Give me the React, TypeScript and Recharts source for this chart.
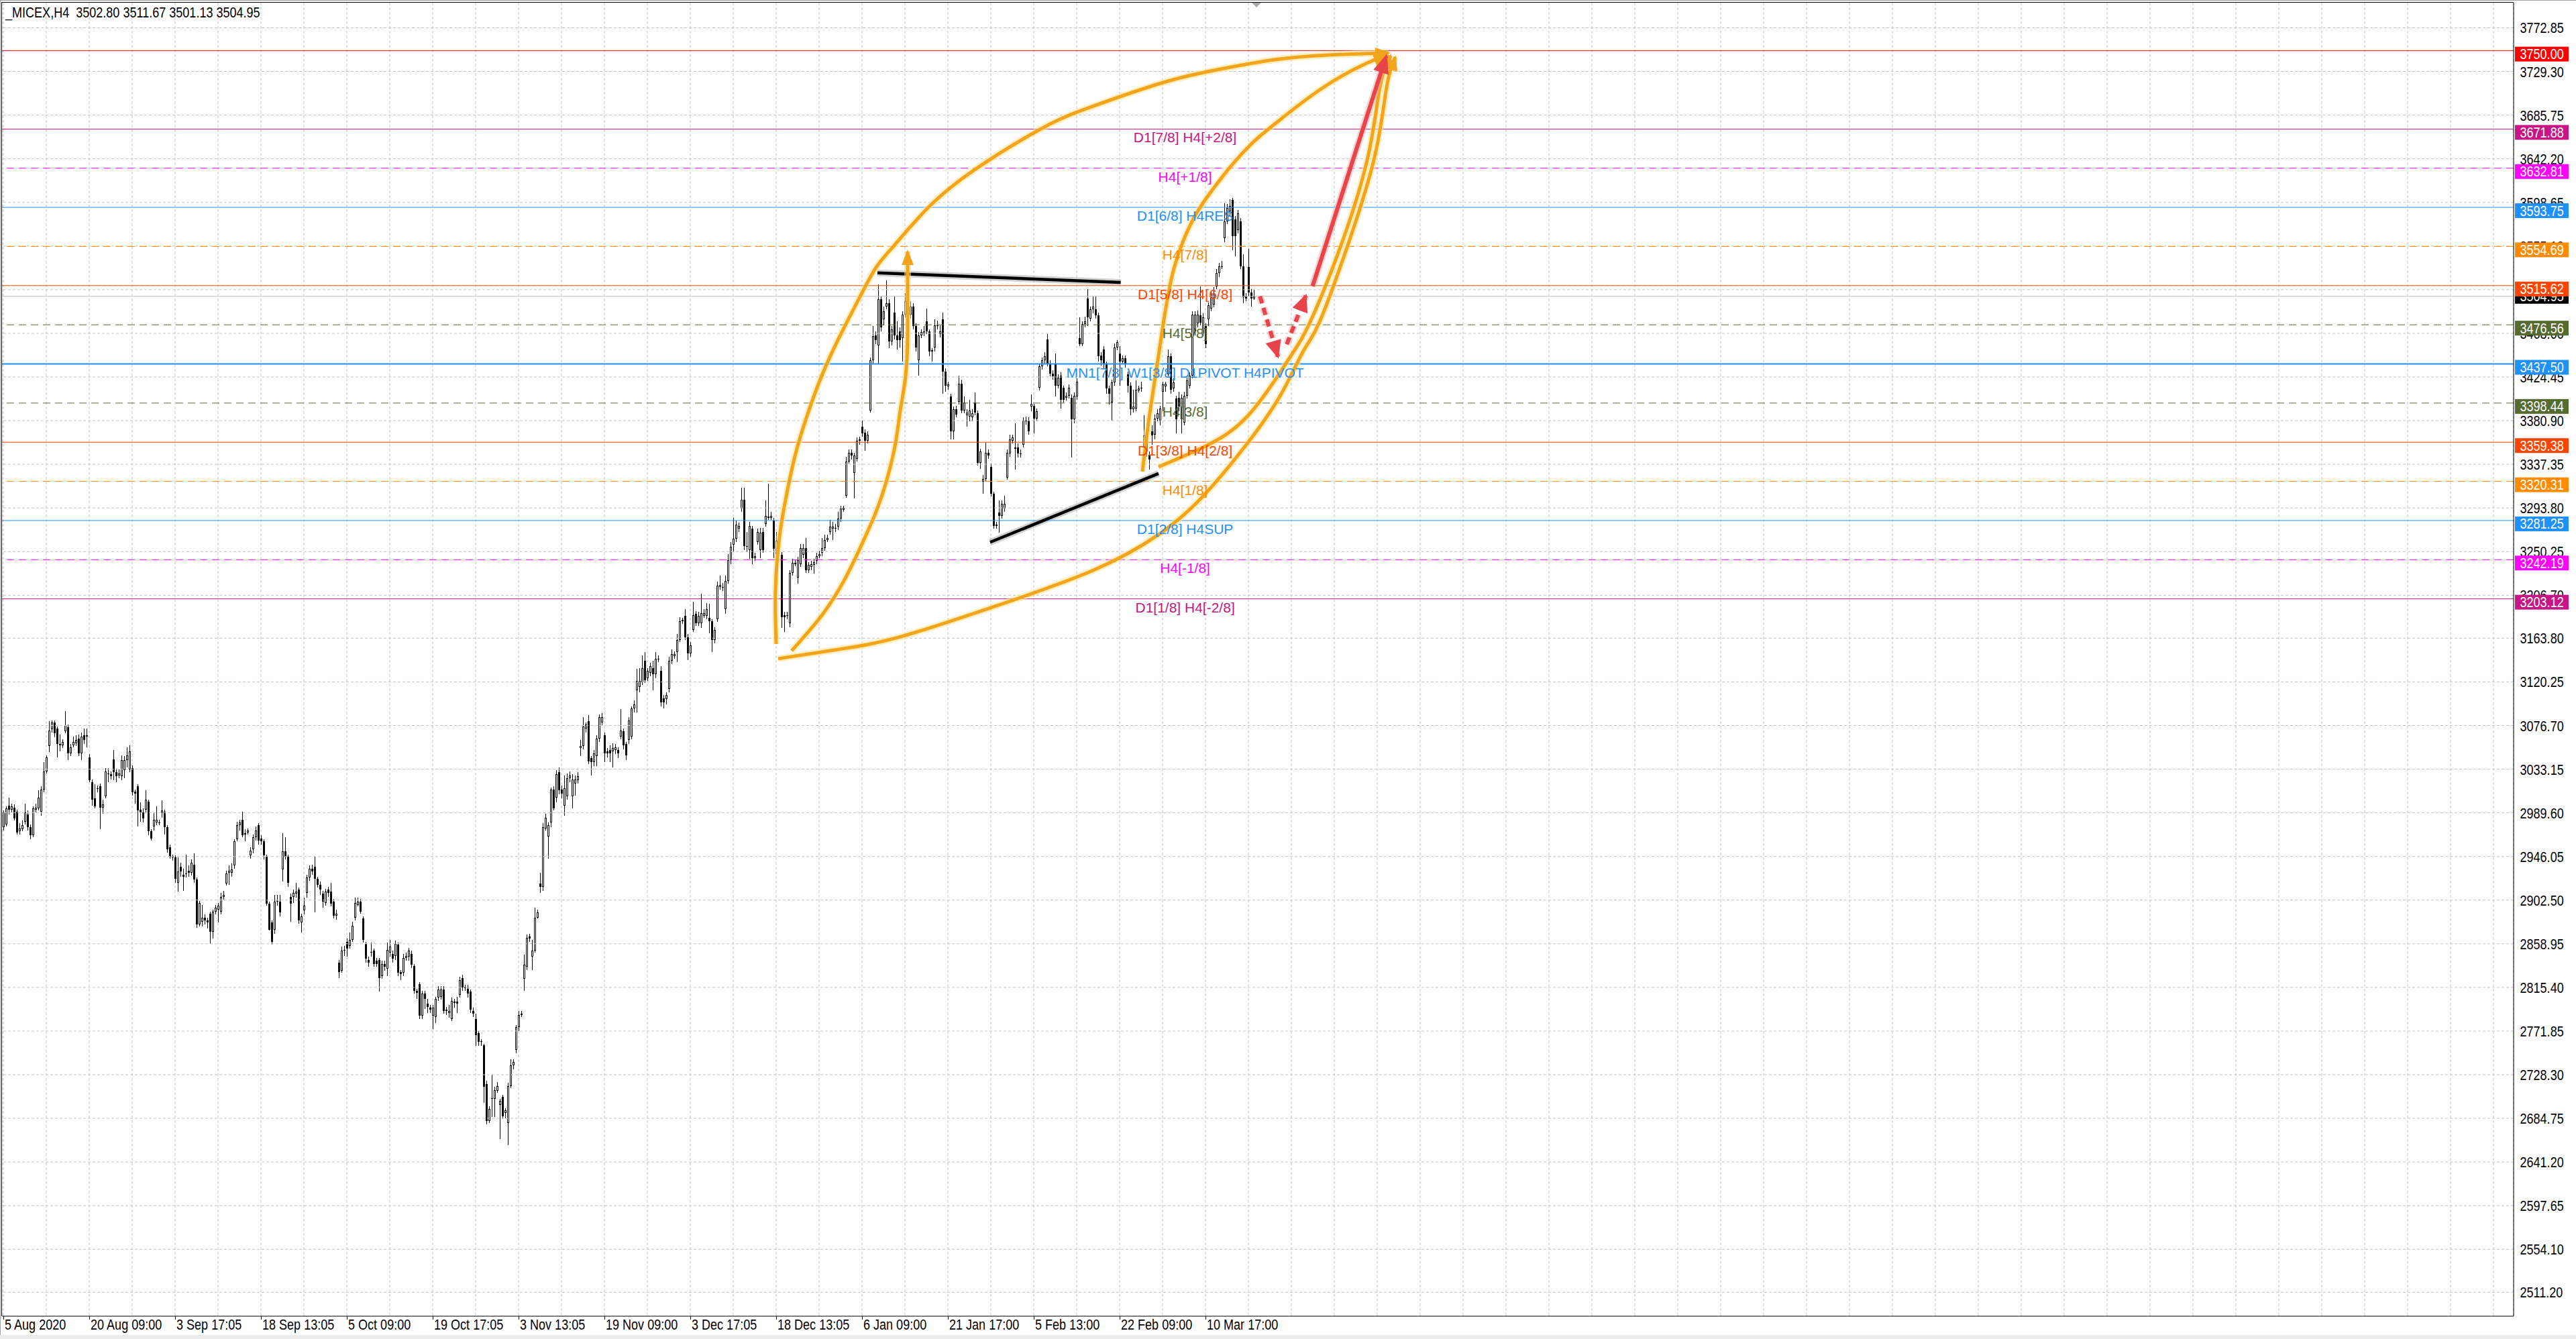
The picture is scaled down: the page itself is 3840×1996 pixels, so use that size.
import React from "react";
import { ComposedChart, XAxis, YAxis, CartesianGrid, Bar, Line, ReferenceLine, ReferenceDot } from "recharts";

// ─── Data ────────────────────────────────────────────────────────────────────

// H4 candles, one row per bar: [open, high, low, close]
const barsAugSep = [
  [2975,2992,2972,2990],[2978,2996,2976,2994],[2997,3005,2988,2993],[2993,2999,2990,2996],[2995,2998,2982,2984],
  [2991,2993,2968,2970],[2971,2979,2968,2974],[2973,2982,2971,2977],[2981,2999,2978,2990],[2988,2992,2972,2975],
  [2975,2978,2963,2967],[2967,2996,2965,2994],[2993,2999,2990,2995],[2994,3012,2992,3005],[2991,3016,2987,3013],
  [3013,3040,3010,3031],[3031,3047,3029,3045],[3056,3081,3050,3072],[3073,3082,3070,3080],[3080,3082,3065,3069],
  [3074,3076,3045,3058],[3058,3068,3051,3057],[3057,3063,3054,3060],[3071,3091,3069,3077],[3075,3078,3042,3049],
  [3049,3058,3046,3055],[3057,3066,3055,3060],[3059,3067,3056,3062],[3064,3068,3046,3049],[3049,3070,3042,3066],
  [3067,3074,3058,3062],[3067,3074,3055,3066],[3045,3048,3020,3022],[3020,3023,2997,3003],[3004,3018,2994,2996],
  [3014,3017,3010,3014],[3016,3019,2973,2995],[2995,3003,2989,2998],[3006,3034,3004,3031],[3028,3034,3020,3029],
  [3028,3031,3023,3026],[3043,3052,3022,3030],[3030,3033,3020,3026],[3027,3033,3024,3029],[3026,3047,3022,3042],
  [3032,3046,3024,3042],[3042,3055,3035,3047],[3033,3057,3030,3051],[3034,3037,3007,3010],[3011,3013,2999,3009],
  [3016,3018,2976,2992],[2993,3000,2981,2990],[2990,2994,2980,2984],[2993,3012,2990,3003],[3001,3003,2967,2971],
  [2971,2973,2962,2964],[2976,2990,2972,2983],[2980,2996,2977,2983],[2979,2983,2977,2980],[2990,3002,2985,2992],
  [2991,2993,2968,2975],[2975,2977,2950,2953],[2955,2958,2944,2946],[2946,2948,2942,2945],[2945,2947,2920,2924],
  [2920,2945,2911,2931],[2936,2940,2926,2931],[2928,2934,2912,2926],[2929,2948,2925,2929],[2932,2937,2926,2930],
  [2930,2943,2927,2940],[2938,2949,2920,2923],[2923,2925,2875,2878],[2878,2902,2876,2900],[2881,2898,2876,2885],
  [2885,2888,2878,2882],[2882,2885,2874,2880],[2889,2891,2859,2871],[2871,2893,2864,2891],[2891,2898,2888,2895],
  [2893,2900,2880,2897],[2891,2910,2888,2906],[2906,2912,2903,2908],[2919,2932,2917,2929],[2930,2937,2918,2932],
  [2930,2939,2926,2933],[2937,2963,2934,2961],[2963,2981,2961,2977],[2977,2983,2972,2980],[2983,2991,2965,2967],
  [2969,2973,2961,2968],[2970,2974,2968,2972],[2947,2955,2944,2952],[2953,2968,2949,2965],[2965,2976,2962,2972],
  [2977,2979,2958,2962],
];

const barsSepNov = [
  [2964,2967,2958,2961],[2961,2963,2943,2947],[2946,2948,2897,2899],[2899,2901,2872,2873],[2880,2882,2858,2861],
  [2873,2908,2869,2901],[2901,2908,2897,2902],[2901,2908,2886,2890],[2933,2969,2921,2951],[2951,2965,2943,2946],
  [2946,2948,2916,2920],[2906,2909,2881,2899],[2906,2913,2900,2910],[2909,2920,2905,2911],[2913,2915,2879,2882],
  [2880,2889,2870,2886],[2892,2905,2888,2897],[2910,2928,2905,2925],[2925,2937,2922,2934],[2934,2938,2928,2931],
  [2936,2946,2890,2924],[2924,2926,2915,2918],[2918,2921,2908,2913],[2909,2912,2895,2901],[2900,2914,2897,2911],
  [2913,2916,2906,2910],[2911,2920,2896,2899],[2901,2904,2884,2887],[2887,2893,2883,2889],[2840,2843,2825,2831],
  [2832,2856,2830,2852],[2853,2857,2847,2852],[2861,2864,2846,2854],[2857,2870,2854,2863],[2863,2881,2861,2877],
  [2885,2905,2882,2900],[2898,2905,2896,2901],[2901,2904,2889,2891],[2884,2886,2860,2863],[2859,2861,2840,2844],
  [2843,2846,2836,2840],[2851,2860,2846,2850],[2852,2854,2836,2839],[2842,2845,2836,2839],[2843,2845,2811,2825],
  [2827,2842,2824,2839],[2839,2842,2832,2836],[2834,2860,2827,2853],[2850,2863,2846,2856],[2849,2852,2840,2844],
  [2847,2862,2843,2859],[2858,2860,2827,2830],[2831,2833,2823,2829],[2830,2849,2827,2845],[2845,2850,2842,2847],
  [2846,2855,2842,2852],[2849,2852,2835,2838],[2837,2839,2809,2812],[2812,2814,2804,2810],[2819,2821,2784,2787],
  [2787,2812,2784,2809],[2809,2812,2794,2804],[2799,2804,2790,2796],[2795,2798,2790,2793],[2787,2798,2774,2795],
  [2786,2806,2780,2804],[2805,2817,2802,2813],[2806,2817,2803,2813],[2813,2817,2789,2792],[2793,2796,2788,2792],
  [2790,2798,2785,2792],[2784,2805,2782,2802],[2800,2804,2795,2801],[2801,2806,2790,2799],[2808,2826,2805,2823],
  [2825,2828,2812,2815],[2815,2818,2812,2816],[2814,2818,2805,2809],[2811,2813,2790,2793],[2792,2795,2786,2789],
  [2784,2789,2757,2768],[2770,2772,2757,2761],[2762,2764,2757,2761],[2758,2759,2700,2716],[2719,2722,2679,2682],
  [2682,2697,2680,2694],[2704,2728,2686,2705],[2704,2716,2686,2713],[2712,2721,2710,2717],[2698,2704,2664,2702],
  [2706,2708,2684,2687],[2690,2695,2685,2693],[2680,2720,2658,2717],[2717,2744,2715,2738],[2738,2744,2734,2741],
  [2753,2778,2750,2776],
];

const barsNovDec = [
  [2776,2792,2772,2788],[2788,2792,2786,2789],[2824,2848,2812,2838],[2836,2868,2833,2865],[2866,2869,2861,2864],
  [2846,2863,2833,2852],[2852,2895,2850,2885],[2885,2893,2884,2890],[2919,2930,2910,2916],[2916,2979,2912,2975],
  [2974,2989,2972,2985],[2966,2980,2944,2977],[2980,3015,2975,3013],[3013,3016,2992,2994],[3005,3032,3000,3028],
  [3030,3035,3008,3012],[3013,3017,3004,3009],[2997,3027,2987,3014],[3006,3029,3003,3024],[3024,3031,3020,3027],
  [3006,3028,2994,3023],[3019,3027,3007,3023],[3022,3030,3019,3026],[3054,3062,3046,3056],[3056,3085,3053,3076],
  [3074,3080,3070,3078],[3081,3087,3038,3041],[3044,3046,3027,3040],[3040,3052,3036,3049],[3046,3067,3036,3064],
  [3064,3088,3060,3085],[3080,3089,3077,3085],[3067,3070,3040,3049],[3051,3054,3045,3049],[3052,3057,3040,3049],
  [3051,3059,3035,3054],[3052,3058,3048,3055],[3052,3055,3044,3049],[3066,3093,3063,3072],[3071,3074,3053,3057],
  [3058,3060,3042,3047],[3062,3085,3058,3082],[3066,3096,3063,3094],[3094,3102,3090,3098],[3112,3133,3090,3121],
  [3115,3134,3110,3121],[3120,3147,3117,3134],[3141,3150,3119,3122],[3124,3134,3121,3131],[3129,3139,3126,3136],
  [3134,3141,3112,3128],[3128,3150,3124,3143],[3143,3147,3140,3143],[3131,3136,3096,3100],[3104,3107,3094,3100],
  [3103,3110,3098,3107],[3113,3145,3110,3141],[3141,3153,3138,3148],[3146,3151,3143,3148],[3150,3168,3140,3162],
  [3162,3185,3160,3181],[3181,3184,3178,3182],[3186,3193,3162,3165],[3165,3168,3142,3149],[3149,3160,3145,3157],
  [3172,3200,3170,3187],[3188,3191,3176,3179],[3179,3190,3176,3186],[3179,3208,3174,3189],[3186,3193,3184,3189],
  [3186,3199,3183,3193],[3184,3198,3169,3181],[3181,3183,3150,3162],[3162,3175,3159,3172],[3183,3220,3180,3216],
  [3215,3226,3212,3217],[3214,3219,3211,3215],[3193,3226,3188,3221],[3221,3248,3218,3242],[3242,3260,3238,3255],
  [3257,3284,3250,3263],[3263,3281,3260,3277],[3273,3279,3270,3276],[3293,3314,3290,3302],[3302,3314,3252,3256],
  [3255,3270,3250,3256],[3252,3280,3243,3276],[3273,3276,3238,3244],[3244,3249,3241,3246],[3260,3273,3257,3270],
  [3252,3274,3244,3269],[3270,3274,3249,3252],[3278,3301,3275,3286],[3284,3318,3282,3285],[3284,3290,3282,3286],
  [3281,3284,3244,3253],
];

const barsDecFeb = [
  [3248,3270,3245,3261],[3261,3268,3252,3258],[3247,3250,3174,3185],[3187,3190,3170,3185],[3187,3190,3183,3187],
  [3179,3232,3175,3229],[3229,3243,3226,3239],[3238,3242,3236,3239],[3224,3245,3218,3242],[3238,3258,3235,3254],
  [3247,3258,3244,3254],[3254,3264,3229,3232],[3232,3240,3229,3237],[3235,3241,3232,3238],[3237,3243,3228,3240],
  [3241,3249,3238,3246],[3246,3251,3244,3248],[3249,3264,3246,3254],[3254,3267,3251,3262],[3262,3267,3260,3264],
  [3270,3282,3267,3275],[3273,3280,3262,3275],[3273,3278,3270,3274],[3275,3290,3272,3283],[3283,3296,3280,3293],
  [3292,3296,3290,3294],[3306,3345,3304,3340],[3340,3352,3338,3349],[3349,3352,3342,3346],[3329,3349,3303,3346],
  [3343,3364,3340,3361],[3361,3365,3357,3362],[3375,3381,3365,3368],[3369,3372,3351,3361],[3361,3370,3358,3367],
  [3391,3444,3389,3441],[3441,3475,3438,3465],[3466,3470,3457,3461],[3456,3517,3437,3502],[3502,3505,3470,3474],
  [3482,3495,3476,3490],[3495,3521,3492,3498],[3498,3502,3453,3460],[3460,3475,3456,3472],[3489,3505,3462,3466],
  [3466,3480,3452,3461],[3470,3474,3454,3461],[3463,3490,3440,3487],[3487,3508,3484,3500],[3495,3502,3490,3498],
  [3487,3500,3483,3495],[3495,3498,3472,3475],[3475,3478,3450,3454],[3441,3469,3426,3466],[3466,3472,3463,3469],
  [3468,3475,3465,3470],[3480,3493,3467,3470],[3470,3472,3445,3450],[3451,3453,3440,3450],[3454,3482,3450,3476],
  [3475,3481,3472,3476],[3467,3476,3464,3470],[3482,3489,3408,3430],[3430,3433,3410,3416],[3415,3420,3412,3417],
  [3405,3408,3362,3370],[3370,3395,3362,3392],[3392,3396,3384,3387],[3400,3426,3397,3418],[3418,3422,3388,3391],
  [3391,3405,3388,3399],[3386,3392,3375,3389],[3385,3402,3380,3391],[3384,3392,3380,3388],[3399,3409,3386,3389],
  [3388,3391,3336,3339],[3339,3353,3333,3350],[3320,3327,3308,3323],[3323,3359,3320,3349],[3349,3352,3343,3346],
  [3335,3338,3305,3308],[3308,3310,3273,3276],[3277,3280,3273,3276],[3289,3301,3269,3286],[3286,3301,3283,3298],
  [3293,3306,3290,3298],[3324,3352,3322,3349],[3348,3367,3345,3362],[3361,3367,3358,3364],[3354,3378,3332,3353],
  [3354,3358,3344,3348],[3348,3352,3344,3348],[3357,3384,3354,3381],[3380,3385,3377,3381],[3381,3384,3367,3370],
  [3395,3407,3390,3398],
];

const barsFebMar = [
  [3396,3398,3368,3383],[3383,3393,3380,3390],[3414,3438,3411,3435],[3435,3444,3432,3441],[3441,3449,3438,3445],
  [3462,3467,3435,3438],[3438,3441,3425,3428],[3428,3431,3422,3425],[3438,3448,3405,3416],[3416,3427,3413,3424],
  [3426,3429,3393,3402],[3414,3416,3399,3402],[3404,3409,3401,3406],[3406,3417,3403,3414],[3404,3407,3344,3382],
  [3382,3409,3378,3406],[3405,3423,3402,3420],[3463,3484,3455,3457],[3457,3480,3455,3477],[3477,3485,3474,3480],
  [3503,3512,3475,3484],[3483,3495,3480,3492],[3492,3505,3488,3495],[3492,3505,3483,3486],[3486,3489,3440,3445],
  [3446,3449,3436,3441],[3452,3455,3433,3437],[3437,3440,3408,3413],[3413,3416,3397,3408],[3399,3422,3381,3419],
  [3419,3458,3416,3454],[3454,3461,3451,3459],[3448,3455,3416,3440],[3440,3446,3437,3443],[3443,3446,3434,3437],
  [3427,3430,3409,3416],[3416,3419,3386,3392],[3392,3412,3389,3395],[3393,3421,3390,3412],[3411,3416,3409,3413],
  [3413,3420,3410,3414],[3354,3386,3336,3366],[3362,3368,3345,3350],[3347,3350,3332,3342],[3370,3376,3357,3366],
  [3367,3387,3362,3383],[3383,3392,3380,3388],[3381,3396,3376,3393],[3410,3420,3390,3417],[3415,3420,3410,3418],
  [3427,3452,3424,3445],[3445,3448,3408,3412],[3413,3423,3410,3419],[3403,3406,3368,3382],[3404,3410,3390,3395],
  [3382,3407,3368,3404],[3379,3410,3376,3406],[3406,3424,3403,3421],[3416,3429,3413,3426],[3426,3490,3423,3487],
  [3470,3490,3466,3487],[3478,3491,3474,3487],[3486,3515,3476,3479],[3468,3488,3465,3484],[3475,3478,3453,3457],
  [3482,3499,3475,3496],[3493,3510,3490,3507],[3497,3514,3494,3508],[3515,3532,3512,3528],[3528,3538,3524,3535],
  [3534,3540,3532,3535],[3563,3598,3559,3580],[3580,3597,3577,3593],[3590,3602,3585,3595],[3601,3603,3551,3565],
  [3582,3585,3545,3565],[3571,3591,3568,3588],[3580,3583,3532,3535],[3535,3547,3498,3504],[3505,3508,3500,3503],
  [3534,3552,3505,3509],[3509,3512,3495,3503],[3502.8,3511.67,3501.13,3504.95],
];

const dateLabels = [
  "5 Aug 2020", "20 Aug 09:00", "3 Sep 17:05", "18 Sep 13:05", "5 Oct 09:00", "19 Oct 17:05", "3 Nov 13:05",
  "19 Nov 09:00", "3 Dec 17:05", "18 Dec 13:05", "6 Jan 09:00", "21 Jan 17:00", "5 Feb 13:00", "22 Feb 09:00",
  "10 Mar 17:00",
];

const priceTicks = [
  3772.85, 3729.3, 3685.75, 3642.2, 3598.65, 3555.1, 3511.55, 3468.0, 3424.45, 3380.9, 3337.35, 3293.8, 3250.25,
  3206.7, 3163.8, 3120.25, 3076.7, 3033.15, 2989.6, 2946.05, 2902.5, 2858.95, 2815.4, 2771.85, 2728.3, 2684.75,
  2641.2, 2597.65, 2554.1, 2511.2,
];

// Murrey levels drawn on the chart
const levelPrices = [3750.0, 3671.88, 3632.81, 3593.75, 3554.69, 3515.62, 3476.56, 3437.5, 3398.44, 3359.38, 3320.31, 3281.25, 3242.19, 3203.12];
const levelTags = [
  "", "D1[7/8] H4[+2/8]", "H4[+1/8]", "D1[6/8] H4RES", "H4[7/8]", "D1[5/8] H4[6/8]", "H4[5/8]",
  "MN1[7/8] W1[3/8] D1PIVOT H4PIVOT", "H4[3/8]", "D1[3/8] H4[2/8]", "H4[1/8]", "D1[2/8] H4SUP", "H4[-1/8]", "D1[1/8] H4[-2/8]",
];
const headerQuote = [3502.8, 3511.67, 3501.13, 3504.95];
const lastPrice = 3504.95;

// hand-drawn objects, points as [bar index, price]
const trendTop = [[325.75, 3528.4], [416.4, 3518.8]];
const trendBottom = [[367.75, 3259.6], [430.5, 3328.1]];
const arcOuter = [
  [288, 3158.05], [287.75, 3211.6], [289.25, 3265.15], [291.75, 3305.35], [295, 3345.55], [299.5, 3385.65],
  [305, 3425.75], [311.25, 3462.65], [318.25, 3499.45], [325, 3532.85], [331.75, 3554.95], [345, 3594.45],
  [363, 3633.25], [386.75, 3672.15], [405, 3693.55], [432.25, 3718.3], [453.5, 3731.65], [473.75, 3741.05],
  [493.75, 3745.75], [516.25, 3747.75],
];
const arcInner = [
  [293.75, 3151.3], [305.25, 3187.5], [313.75, 3223.6], [319.5, 3255.1], [325, 3288.5], [329.25, 3322],
  [332.5, 3358.8], [334.25, 3390.9], [336.25, 3425.7], [337, 3465.9], [337, 3506], [337, 3549.6],
];
const arcLower = [
  [288.75, 3143.4], [311.25, 3152.7], [333.75, 3164.8], [368.75, 3194.9], [406.25, 3231.7], [430.5, 3267.2],
  [447, 3305.3], [463.75, 3358.8], [476.25, 3407.7], [484.5, 3450.6], [490.5, 3479.4], [501.25, 3557.7],
  [511.25, 3646.7], [515.5, 3713.6], [518.75, 3743.7],
];
const arcFebLeft = [
  [424.5, 3330.1], [426.75, 3378.95], [429.25, 3423.8], [432, 3472.65], [436.25, 3532.85], [443, 3579.75],
  [448.75, 3604.55], [457, 3633.3], [465.5, 3658.1], [473.75, 3676.8], [492, 3713.6], [508.75, 3738.4], [515.75, 3745.1],
];
const arcFebRight = [
  [430.5, 3334.8], [447, 3354.2], [463.75, 3385.6], [478.75, 3441.2], [487, 3479.4], [498.75, 3557.7],
  [508.75, 3646.7], [513, 3713.6], [517, 3745.1],
];
const arrowUp = [[487.9, 3515.0], [515.4, 3745.1]];
const arrowDipDown = [[468.3, 3505.0], [475, 3444.75]];
const arrowDipUp = [[478.3, 3457.1], [485.4, 3505.7]];

// ─── Styles ──────────────────────────────────────────────────────────────────

// MT4 uses a narrow face; Arial metrics squeezed to 82% give the same widths
const AXIS_FONT = "'Liberation Sans', Arial, sans-serif"
const NARROW = 0.82
const TAG_FONT = "'Liberation Sans', Arial, sans-serif"
const GRID = "#c4c4c4"
const ORANGE = "#f2a51c"
const ORANGE_GLOW = "#fbe28c"
const RED = "#e8454b"
const RED_GLOW = "#f6a9ab"

const LEVEL_STYLES = [
  { color: "#ff0000", dash: false, width: 1 },
  { color: "#c71585", dash: false, width: 1 },
  { color: "#ff00ff", dash: true, width: 1 },
  { color: "#1e90ff", dash: false, width: 1 },
  { color: "#ff8c00", dash: true, width: 1 },
  { color: "#ff4500", dash: false, width: 1 },
  { color: "#556b2f", dash: true, width: 1 },
  { color: "#1e90ff", dash: false, width: 2.2 },
  { color: "#556b2f", dash: true, width: 1 },
  { color: "#ff4500", dash: false, width: 1 },
  { color: "#ff8c00", dash: true, width: 1 },
  { color: "#1e90ff", dash: false, width: 1 },
  { color: "#ff00ff", dash: true, width: 1 },
  { color: "#c71585", dash: false, width: 1 },
]
const TAG_INDEX = 440.4

const bars = [...barsAugSep, ...barsSepNov, ...barsNovDec, ...barsDecFeb, ...barsFebMar]
const SLOTS = 936
const chartData = Array.from({ length: SLOTS }, (_, i) => {
  const b = bars[i]
  if (!b) return { i }
  return { i, o: b[0], h: b[1], l: b[2], c: b[3], range: [b[2], b[1]] }
})
const gridTicks = Array.from({ length: 59 }, (_, k) => k * 16)
const toPts = (arr: number[][]) => arr.map(([i, p]) => ({ i, p }))

// ─── Shapes ──────────────────────────────────────────────────────────────────

function NarrowText({ x, y, fill, children }: { x: number; y: number; fill: string; children: React.ReactNode }) {
  return (
    <text transform={`translate(${x},${y}) scale(${NARROW},1)`} fill={fill} fontFamily={AXIS_FONT} fontSize={22}
      style={{ whiteSpace: "pre" }}>
      {children}
    </text>
  )
}

function Candle(props: any) {
  const { x, y, width, height, payload } = props
  if (!payload || payload.o == null || !Number.isFinite(y)) return <g />
  const { o, h, l, c } = payload
  const top = Math.min(y, y + height)
  const bot = Math.max(y, y + height)
  const span = h - l
  const py = (v: number) => (span > 0 ? top + ((h - v) / span) * (bot - top) : top)
  const cx = Math.round(x + width / 2)
  const b1 = Math.round(py(Math.max(o, c)))
  const b2 = Math.round(py(Math.min(o, c)))
  const bh = b2 - b1
  return (
    <g shapeRendering="crispEdges">
      <line x1={cx + 0.5} x2={cx + 0.5} y1={Math.round(top)} y2={Math.round(bot)} stroke="#000" />
      {c >= o && bh >= 2 ? (
        <rect x={cx - 0.5} y={b1 + 0.5} width={2} height={bh - 1} fill="#fff" stroke="#000" />
      ) : (
        <rect x={cx - 1} y={b1} width={3} height={Math.max(1, bh)} fill="#000" />
      )}
    </g>
  )
}

function arrowHead(color: string, len: number, half: number) {
  return (props: any) => {
    const { cx, cy, index, points } = props
    const key = `ah-${index}`
    if (!points || index !== points.length - 1 || index < 1) return <g key={key} />
    const prev = points[index - 1]
    const dx = cx - prev.x
    const dy = cy - prev.y
    const d = Math.hypot(dx, dy) || 1
    const ux = dx / d
    const uy = dy / d
    const bx = cx - ux * len
    const by = cy - uy * len
    const pts = `${cx + ux * 3},${cy + uy * 3} ${bx - uy * half},${by + ux * half} ${bx + uy * half},${by - ux * half}`
    return <polygon key={key} points={pts} fill={color} />
  }
}

function DateTick(props: any) {
  const { x, y, payload } = props
  const k = payload.value / 32
  if (!Number.isInteger(k) || k >= dateLabels.length) return <g />
  return (
    <g>
      <line x1={x + 0.5} x2={x + 0.5} y1={y} y2={y + 5} stroke="#000" shapeRendering="crispEdges" />
      <NarrowText x={x + 2} y={y + 20} fill="#000">{dateLabels[k]}</NarrowText>
    </g>
  )
}

// price scale text, drawn at the right end of each grid line so that the badges can cover it
function priceLabel(value: number) {
  return (props: any) => {
    const vb = props.viewBox
    if (!vb) return null
    return <NarrowText x={vb.x + vb.width + 9.5} y={vb.y + 8} fill="#000">{value.toFixed(2)}</NarrowText>
  }
}

// price badge at the right end of a level line
function badge(value: number, fill: string, centred: boolean) {
  return (props: any) => {
    const vb = props.viewBox
    if (!vb) return null
    const x = vb.x + vb.width
    const top = centred ? vb.y - 11 : vb.y - 6
    return (
      <g>
        <rect x={x + 2} y={top} width={80} height={22} fill={fill} />
        <NarrowText x={x + 9.5} y={top + 18.5} fill="#fff">{value.toFixed(2)}</NarrowText>
      </g>
    )
  }
}

function tagShape(text: string, color: string) {
  return (props: any) => (
    <text x={props.cx} y={props.cy + 20} textAnchor="middle" fill={color} fontFamily={TAG_FONT} fontSize={21}>{text}</text>
  )
}

// ─── Chart ───────────────────────────────────────────────────────────────────

export default function App() {
  const curves = [arcOuter, arcInner, arcLower, arcFebLeft, arcFebRight]
  const redArrows = [arrowUp, arrowDipDown, arrowDipUp]
  return (
    <div style={{ position: "relative", width: 3840, height: 1996, background: "#fff", overflow: "hidden" }}>
      <style>{"body{margin:0}"}</style>
      <ComposedChart width={3840} height={1990} data={chartData} margin={{ top: 4, right: 0, bottom: 0, left: 3 }}>
        <CartesianGrid horizontal={false} stroke={GRID} strokeDasharray="4 3" />
        <XAxis dataKey="i" type="number" domain={[-0.5, SLOTS - 0.5]} allowDataOverflow ticks={gridTicks} interval={0}
          tick={<DateTick />} tickLine={false} tickSize={0} tickMargin={0} height={28} axisLine={{ stroke: "#000" }} />
        <XAxis xAxisId="c" dataKey="i" type="category" hide />
        <YAxis orientation="right" width={93} type="number" domain={[2487.35, 3797.95]} allowDataOverflow
          ticks={priceTicks} interval={0} tick={false} tickLine={false} axisLine={{ stroke: "#000" }} />

        {priceTicks.map((t) => (
          <ReferenceLine key={`g${t}`} y={t} stroke={GRID} strokeDasharray="4 3" label={priceLabel(t)} />
        ))}
        <ReferenceLine y={lastPrice} stroke="#c0c0c0" label={badge(lastPrice, "#000", true)} />
        {levelPrices.map((p, k) => (
          <ReferenceLine key={`l${p}`} y={p} stroke={LEVEL_STYLES[k].color} strokeWidth={LEVEL_STYLES[k].width}
            strokeDasharray={LEVEL_STYLES[k].dash ? "11 7" : undefined} label={badge(p, LEVEL_STYLES[k].color, false)} />
        ))}
        {levelPrices.map((p, k) =>
          levelTags[k] ? (
            <ReferenceDot key={`t${p}`} x={TAG_INDEX} y={p} r={0} shape={tagShape(levelTags[k], LEVEL_STYLES[k].color)} />
          ) : null
        )}

        <Bar xAxisId="c" dataKey="range" shape={<Candle />} isAnimationActive={false} />

        {[trendTop, trendBottom].map((t, k) => (
          <Line key={`tg${k}`} data={toPts(t)} dataKey="p" type="linear" stroke="#9a9a9a" strokeOpacity={0.45}
            strokeWidth={10} dot={false} activeDot={false} isAnimationActive={false} />
        ))}
        {[trendTop, trendBottom].map((t, k) => (
          <Line key={`t${k}`} data={toPts(t)} dataKey="p" type="linear" stroke="#000" strokeWidth={4.5}
            dot={false} activeDot={false} isAnimationActive={false} />
        ))}

        {curves.map((c, k) => (
          <Line key={`cg${k}`} data={toPts(c)} dataKey="p" type="natural" stroke={ORANGE_GLOW} strokeOpacity={0.55}
            strokeWidth={10} dot={false} activeDot={false} isAnimationActive={false} />
        ))}
        {curves.map((c, k) => (
          <Line key={`c${k}`} data={toPts(c)} dataKey="p" type="natural" stroke={ORANGE} strokeWidth={5}
            dot={arrowHead(ORANGE, 20, 9)} activeDot={false} isAnimationActive={false} />
        ))}

        {redArrows.map((a, k) => (
          <Line key={`rg${k}`} data={toPts(a)} dataKey="p" type="linear" stroke={RED_GLOW} strokeOpacity={0.5}
            strokeWidth={11} strokeDasharray={k > 0 ? "11 7" : undefined} dot={false} activeDot={false} isAnimationActive={false} />
        ))}
        {redArrows.map((a, k) => (
          <Line key={`r${k}`} data={toPts(a)} dataKey="p" type="linear" stroke={RED} strokeWidth={6}
            strokeDasharray={k > 0 ? "11 7" : undefined} dot={arrowHead(RED, k > 0 ? 24 : 26, 12)}
            activeDot={false} isAnimationActive={false} />
        ))}
      </ComposedChart>

      <svg width={3840} height={1996} style={{ position: "absolute", left: 0, top: 0, pointerEvents: "none" }}>
        <rect x={0} y={1990} width={3840} height={6} fill="#ececec" />
        <line x1={0.5} x2={0.5} y1={0} y2={1990} stroke="#a0a0a0" />
        <line x1={0} x2={3840} y1={0.5} y2={0.5} stroke="#a0a0a0" />
        <line x1={2.5} x2={2.5} y1={3} y2={1962} stroke="#000" />
        <line x1={3} x2={3747} y1={3.5} y2={3.5} stroke="#000" />
        <polygon points="1866,4 1880,4 1873,11" fill="#a8a8a8" />
        <NarrowText x={8} y={26} fill="#000">{`_MICEX,H4  ${headerQuote.map((v) => v.toFixed(2)).join(" ")}`}</NarrowText>
      </svg>
    </div>
  )
}
